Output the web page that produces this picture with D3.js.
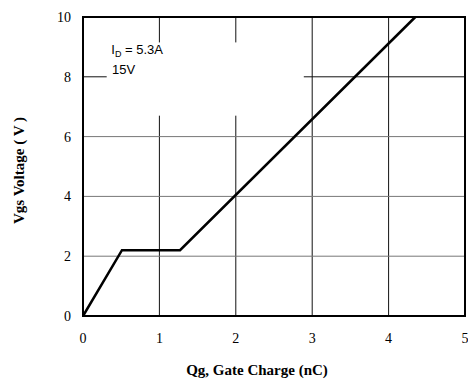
<!DOCTYPE html>
<html>
<head>
<meta charset="utf-8">
<script src="https://cdn.jsdelivr.net/npm/d3@7"></script>
<style>
  body { margin: 0; background: #fff; }
  svg { display: block; }
</style>
</head>
<body>
<svg id="chart"></svg>
<script>
// gate charge curve (Qg in nC, Vgs in V)
const qg = [0, 0.51, 1.27, 4.35];
const vgs = [0, 2.2, 2.2, 10];
const xTicks = [0, 1, 2, 3, 4, 5];
const yTicks = [0, 2, 4, 6, 8, 10];
const noteLines = ["= 5.3A", "15V"];

const W = 468, H = 381;
const margin = { top: 17, right: 3, bottom: 65, left: 83 };
const width = W - margin.left - margin.right,
    height = H - margin.top - margin.bottom;

const svg = d3.select("#chart")
    .attr("width", W)
    .attr("height", H);

const g = svg.append("g")
    .attr("transform", `translate(${margin.left}, ${margin.top})`);

const x = d3.scaleLinear().domain([0, 5]).range([0, width]);
const y = d3.scaleLinear().domain([0, 10]).range([height, 0]);

// grid
g.selectAll(".vgrid")
    .data(xTicks.slice(1, -1))
    .enter()
    .append("line")
    .attr("x1", d => x(d)).attr("x2", d => x(d))
    .attr("y1", 0).attr("y2", height)
    .attr("stroke", "#111").attr("stroke-width", 1);

g.selectAll(".hgrid")
    .data(yTicks.slice(1, -1))
    .enter()
    .append("line")
    .attr("x1", 0).attr("x2", width)
    .attr("y1", d => y(d)).attr("y2", d => y(d))
    .attr("stroke", d => d === 8 ? "#111" : "#777").attr("stroke-width", 1);

// white label box that hides the grid behind the note
g.append("rect")
    .attr("x", x(0.31)).attr("y", y(9.15))
    .attr("width", x(2.89) - x(0.31))
    .attr("height", y(6.7) - y(9.15))
    .attr("fill", "#fff");

// curve
const line = d3.line()
    .x((d, i) => x(qg[i]))
    .y((d, i) => y(vgs[i]));

g.append("path")
    .datum(qg)
    .attr("d", line)
    .attr("fill", "none")
    .attr("stroke", "#000")
    .attr("stroke-width", 2.5)
    .attr("stroke-linejoin", "miter");

// frame
g.append("rect")
    .attr("width", width).attr("height", height)
    .attr("fill", "none")
    .attr("stroke", "#000")
    .attr("stroke-width", 2);

// tick labels
g.selectAll(".xlab")
    .data(xTicks)
    .enter()
    .append("text")
    .attr("x", d => x(d))
    .attr("y", height + 27)
    .attr("text-anchor", "middle")
    .style("font", "14px 'Liberation Serif', 'Times New Roman', serif")
    .text(d => d);

g.selectAll(".ylab")
    .data(yTicks)
    .enter()
    .append("text")
    .attr("x", -12)
    .attr("y", d => y(d) + 5)
    .attr("text-anchor", "end")
    .style("font", "14px 'Liberation Serif', 'Times New Roman', serif")
    .text(d => d);

// axis titles
svg.append("text")
    .attr("x", margin.left + width / 2 - 17)
    .attr("y", 375)
    .attr("text-anchor", "middle")
    .style("font", "bold 15px 'Liberation Serif', 'Times New Roman', serif")
    .text("Qg, Gate Charge (nC)");

svg.append("text")
    .attr("transform", `translate(24, ${margin.top + height / 2 + 4}) rotate(-90)`)
    .attr("text-anchor", "middle")
    .style("font", "bold 15px 'Liberation Serif', 'Times New Roman', serif")
    .text("Vgs Voltage ( V )");

// note
const note = g.append("text")
    .attr("x", x(0.37))
    .attr("y", y(8.75))
    .style("font", "13px 'Liberation Sans', Arial, sans-serif");
note.append("tspan").text("I");
note.append("tspan").attr("dy", 3).style("font-size", "9px").text("D");
note.append("tspan").attr("dy", -3).text(" " + noteLines[0]);

g.append("text")
    .attr("x", x(0.38))
    .attr("y", y(8.1))
    .style("font", "13px 'Liberation Sans', Arial, sans-serif")
    .text(noteLines[1]);
</script>
</body>
</html>
